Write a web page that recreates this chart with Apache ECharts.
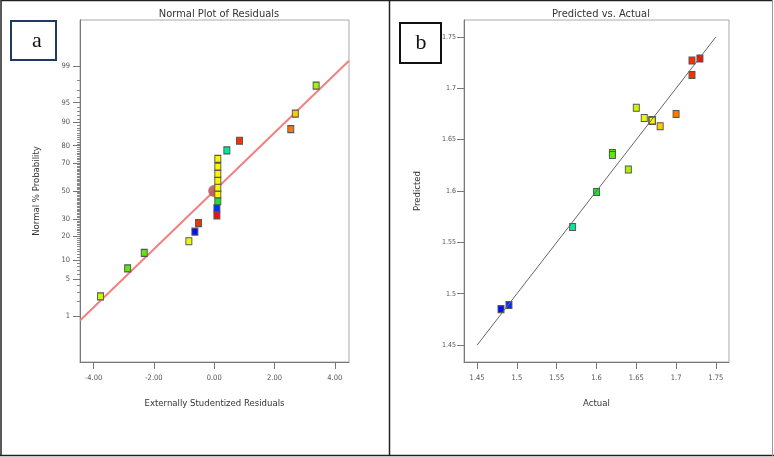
<!DOCTYPE html>
<html>
<head>
<meta charset="utf-8">
<script src="https://cdn.jsdelivr.net/npm/echarts@6/dist/echarts.min.js"></script>
<style>
  html, body { margin: 0; padding: 0; background: #fff; }
  #chart { width: 774px; height: 457px; }
</style>
</head>
<body>
<div id="chart"></div>
<script>
// panel a: normal probability plot of residuals
var residuals = [-3.77, -2.87, -2.32, -0.84, -0.64, -0.52, 0.09, 0.09, 0.12, 0.12,
                 0.12, 0.12, 0.12, 0.12, 0.12, 0.42, 0.84, 2.54, 2.69, 3.38];
var probPct = [2.5, 7.5, 12.5, 17.5, 22.5, 27.5, 32.5, 37.5, 42.5, 47.5,
               52.5, 57.5, 62.5, 67.5, 72.5, 77.5, 82.5, 87.5, 92.5, 97.5];
var residResponse = [1.65, 1.62, 1.62, 1.66, 1.48, 1.72, 1.73, 1.49, 1.60, 1.67,
                     1.67, 1.67, 1.67, 1.67, 1.67, 1.57, 1.72, 1.70, 1.68, 1.64];
var probTicks = [1, 5, 10, 20, 30, 50, 70, 80, 90, 95, 99];
var residTicks = [-4, -2, 0, 2, 4];
var fitSlope = 0.5415; // z per residual unit

// panel b: predicted vs actual
var actual = [1.73, 1.72, 1.72, 1.70, 1.65, 1.66, 1.67, 1.67, 1.67, 1.67,
              1.67, 1.67, 1.68, 1.62, 1.62, 1.64, 1.60, 1.57, 1.49, 1.48];
var predicted = [1.729, 1.727, 1.713, 1.675, 1.681, 1.671, 1.6685, 1.6685, 1.6685, 1.6685,
                 1.6685, 1.6685, 1.663, 1.637, 1.635, 1.621, 1.599, 1.565, 1.489, 1.485];
var pvaTicks = [1.45, 1.5, 1.55, 1.6, 1.65, 1.7, 1.75];

// inverse normal cdf (Acklam) for the probability scale
function probit(p) {
  var a = [-39.6968302866538, 220.946098424521, -275.928510446969, 138.357751867269, -30.6647980661472, 2.50662827745924];
  var b = [-54.4760987982241, 161.585836858041, -155.698979859887, 66.8013118877197, -13.2806815528857];
  var c = [-0.00778489400243029, -0.322396458041136, -2.40075827716184, -2.54973253934373, 4.37466414146497, 2.93816398269878];
  var d = [0.00778469570904146, 0.32246712907004, 2.445134137143, 3.75440866190742];
  var pl = 0.02425, q, r;
  if (p < pl) {
    q = Math.sqrt(-2 * Math.log(p));
    return (((((c[0]*q+c[1])*q+c[2])*q+c[3])*q+c[4])*q+c[5]) / ((((d[0]*q+d[1])*q+d[2])*q+d[3])*q+1);
  }
  if (p > 1 - pl) {
    q = Math.sqrt(-2 * Math.log(1 - p));
    return -(((((c[0]*q+c[1])*q+c[2])*q+c[3])*q+c[4])*q+c[5]) / ((((d[0]*q+d[1])*q+d[2])*q+d[3])*q+1);
  }
  q = p - 0.5; r = q * q;
  return (((((a[0]*r+a[1])*r+a[2])*r+a[3])*r+a[4])*r+a[5])*q / (((((b[0]*r+b[1])*r+b[2])*r+b[3])*r+b[4])*r+1);
}

var zMajor = probTicks.map(function (p) { return probit(p / 100); });
var zMinor = [];
for (var i = 1; i < 100; i++) {
  if (probTicks.indexOf(i) < 0) zMinor.push(probit(i / 100));
}

var xMinA = -4.45, xMaxA = 4.47;
var normalData = residuals.map(function (r, i) {
  return [r, probit(probPct[i] / 100), residResponse[i]];
});
var fitLine = [[xMinA, xMinA * fitSlope], [xMaxA, xMaxA * fitSlope]];
var pvaData = actual.map(function (a, i) { return [a, predicted[i], a]; });
var diagLine = [[pvaTicks[0], pvaTicks[0]], [pvaTicks[pvaTicks.length - 1], pvaTicks[pvaTicks.length - 1]]];

var rampColors = ['#0010ff', '#0070ff', '#00c8d0', '#00f090', '#22e010', '#9cf000', '#ffff00', '#ff7a00', '#ff0a00'];
var narrow = '"DejaVu Sans Condensed", Roboto, sans-serif';
var tickFont = { fontFamily: narrow, fontSize: 7.5, color: '#555' };
var nameFont = { fontFamily: narrow, fontSize: 9.5, color: '#333' };
var titleFont = { fontFamily: narrow, fontSize: 11, fontWeight: 'normal', color: '#333' };

var chart = echarts.init(document.getElementById('chart'), null, { renderer: 'canvas' });

var option = {
  animation: false,
  backgroundColor: '#fff',
  title: [
    { text: 'Normal Plot of Residuals', left: 214, top: 4, textAlign: 'center', textStyle: titleFont },
    { text: 'Predicted vs. Actual', left: 596, top: 4, textAlign: 'center', textStyle: titleFont }
  ],
  grid: [
    { left: 80, top: 20, width: 269, height: 342, show: true, borderColor: '#aaa', borderWidth: 1 },
    { left: 464, top: 20, width: 265, height: 342, show: true, borderColor: '#aaa', borderWidth: 1 }
  ],
  visualMap: [
    { type: 'continuous', show: false, seriesIndex: [2, 4], dimension: 2, min: 1.48, max: 1.73,
      inRange: { color: rampColors } }
  ],
  xAxis: [
    { type: 'value', gridIndex: 0, min: xMinA, max: xMaxA,
      name: 'Externally Studentized Residuals', nameLocation: 'middle', nameGap: 37, nameTextStyle: nameFont,
      splitLine: { show: false },
      axisLine: { onZero: false, lineStyle: { color: '#777' } },
      axisTick: { show: true, length: 7, lineStyle: { color: '#777' }, customValues: residTicks },
      axisLabel: Object.assign({ margin: 12, customValues: residTicks,
        formatter: function (v) { return v.toFixed(2); } }, tickFont) },
    { type: 'value', gridIndex: 1, min: 1.4335, max: 1.7665,
      name: 'Actual', nameLocation: 'middle', nameGap: 37, nameTextStyle: nameFont,
      splitLine: { show: false },
      axisLine: { onZero: false, lineStyle: { color: '#777' } },
      axisTick: { show: true, length: 7, lineStyle: { color: '#777' }, customValues: pvaTicks },
      axisLabel: Object.assign({ margin: 12, customValues: pvaTicks,
        formatter: function (v) { return String(+v.toFixed(2)); } }, tickFont) }
  ],
  yAxis: [
    { type: 'value', gridIndex: 0, min: -3.18, max: 3.18, position: 'left',
      name: 'Normal % Probability', nameLocation: 'middle', nameGap: 38, nameTextStyle: nameFont,
      splitLine: { show: false },
      axisLine: { onZero: false, lineStyle: { color: '#777' } },
      axisTick: { show: true, length: 7, lineStyle: { color: '#777' }, customValues: zMajor },
      axisLabel: Object.assign({ margin: 10, customValues: zMajor,
        formatter: function (v) {
          var best = 0;
          for (var k = 1; k < zMajor.length; k++) {
            if (Math.abs(zMajor[k] - v) < Math.abs(zMajor[best] - v)) best = k;
          }
          return String(probTicks[best]);
        } }, tickFont) },
    { type: 'value', gridIndex: 0, min: -3.18, max: 3.18, position: 'left', offset: 0,
      splitLine: { show: false },
      axisLine: { show: true, onZero: false, lineStyle: { color: '#777' } },
      axisTick: { show: true, length: 3, lineStyle: { color: '#888' }, customValues: zMinor },
      axisLabel: { show: false, customValues: zMinor } },
    { type: 'value', gridIndex: 1, min: 1.4335, max: 1.7665, position: 'left',
      name: 'Predicted', nameLocation: 'middle', nameGap: 41, nameTextStyle: nameFont,
      splitLine: { show: false },
      axisLine: { onZero: false, lineStyle: { color: '#777' } },
      axisTick: { show: true, length: 7, lineStyle: { color: '#777' }, customValues: pvaTicks },
      axisLabel: { margin: 8, customValues: pvaTicks, fontFamily: narrow, fontSize: 7, color: '#555',
        formatter: function (v) { return String(+v.toFixed(2)); } } }
  ],
  series: [
    { type: 'line', xAxisIndex: 0, yAxisIndex: 0, data: fitLine, showSymbol: false, symbol: 'none',
      lineStyle: { color: '#f47f7f', width: 2 }, z: 2, silent: true },
    { type: 'scatter', xAxisIndex: 0, yAxisIndex: 0, data: [[0, 0]], symbol: 'circle', symbolSize: 12,
      itemStyle: { color: '#b85a5a', opacity: 0.9 }, z: 3 },
    { type: 'scatter', xAxisIndex: 0, yAxisIndex: 0, data: normalData, symbol: 'rect', symbolSize: [6, 7],
      itemStyle: { borderColor: '#555', borderWidth: 1, opacity: 1 }, z: 4 },
    { type: 'line', xAxisIndex: 1, yAxisIndex: 2, data: diagLine, showSymbol: false, symbol: 'none',
      lineStyle: { color: '#666', width: 1 }, z: 6, silent: true },
    { type: 'scatter', xAxisIndex: 1, yAxisIndex: 2, data: pvaData, symbol: 'rect', symbolSize: [6, 7],
      itemStyle: { borderColor: '#555', borderWidth: 1, opacity: 1 }, z: 4 }
  ],
  graphic: [
    { type: 'line', shape: { x1: 1, y1: 0.5, x2: 773, y2: 0.5 }, style: { stroke: '#222', lineWidth: 1.5 } },
    { type: 'line', shape: { x1: 1, y1: 0, x2: 1, y2: 456 }, style: { stroke: '#222', lineWidth: 1.5 } },
    { type: 'line', shape: { x1: 0, y1: 455.5, x2: 774, y2: 455.5 }, style: { stroke: '#222', lineWidth: 1.5 } },
    { type: 'line', shape: { x1: 389.5, y1: 0, x2: 389.5, y2: 456 }, style: { stroke: '#222', lineWidth: 1.5 } },
    { type: 'line', shape: { x1: 772.5, y1: 0, x2: 772.5, y2: 456 }, style: { stroke: '#999', lineWidth: 1 } },
    { type: 'rect', z: -1, shape: { x: 11, y: 21, width: 45, height: 39 },
      style: { fill: 'transparent', stroke: '#1f3864', lineWidth: 2 } },
    { type: 'text', x: 37, y: 41,
      style: { text: 'a', font: '22px "Liberation Serif", serif', fill: '#111', align: 'center', verticalAlign: 'middle' } },
    { type: 'rect', z: -1, shape: { x: 400, y: 23, width: 41, height: 40 },
      style: { fill: 'transparent', stroke: '#111', lineWidth: 2 } },
    { type: 'text', x: 421, y: 43,
      style: { text: 'b', font: '22px "Liberation Serif", serif', fill: '#111', align: 'center', verticalAlign: 'middle' } }
  ]
};

chart.setOption(option);
</script>
</body>
</html>
